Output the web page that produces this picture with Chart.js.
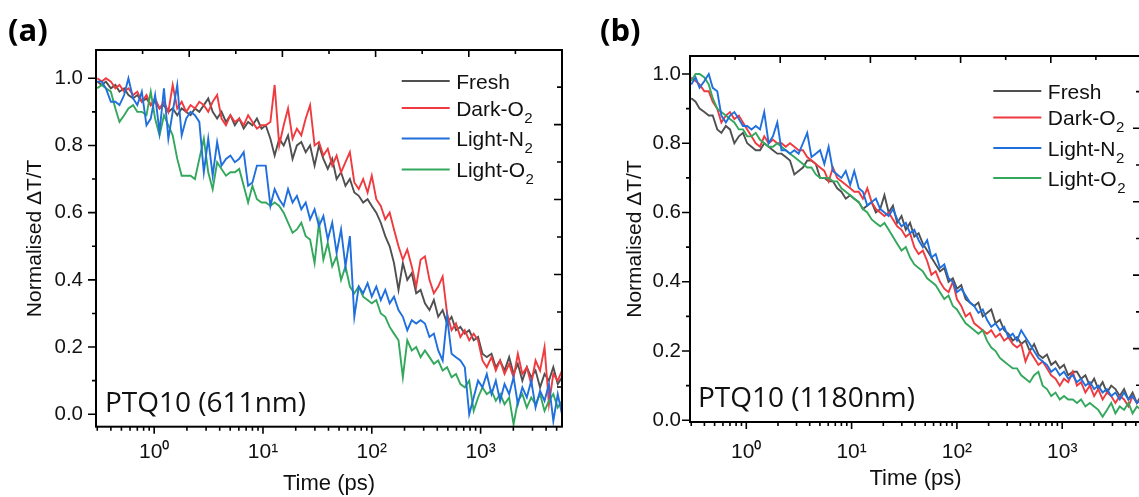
<!DOCTYPE html>
<html>
<head>
<meta charset="utf-8">
<script src="https://cdn.jsdelivr.net/npm/chart.js@4.4.0/dist/chart.umd.min.js"></script>
<style>
  html, body { margin: 0; padding: 0; background: #fff; overflow: hidden; }
  body { width: 1139px; height: 497px; position: relative; }
  .panel { position: absolute; top: 0; width: 580px; height: 497px; }
  .tag { position: absolute; font-family: "Open Sans", sans-serif; font-weight: 700; font-size: 31px; color: #000; }
  .note { position: absolute; font-family: "Open Sans", sans-serif; font-size: 28px; color: #111; white-space: nowrap; }
</style>
</head>
<body>
<div class="panel" style="left:0"><canvas id="ca" width="580" height="497"></canvas></div>
<div class="panel" style="left:580px"><canvas id="cb" width="580" height="497"></canvas></div>
<div class="tag" style="left:8px; top:8px">(a)</div>
<div class="tag" style="left:600px; top:8px">(b)</div>
<div class="note" style="left:105px; top:382px">PTQ10 (611nm)</div>
<div class="note" style="left:698px; top:377px">PTQ10 (1180nm)</div>
<script>
// time axis (ps), shared by all traces
const timePs = [0.30,0.33,0.36,0.40,0.44,0.48,0.53,0.58,0.64,0.70,
  0.77,0.85,0.93,1.02,1.12,1.23,1.35,1.48,1.63,1.79,
  1.97,2.16,2.37,2.60,2.86,3.14,3.45,3.79,4.16,4.57,
  5.02,5.51,6.05,6.65,7.30,8.00,8.80,9.70,10.6,11.7,
  12.8,14.1,15.5,17.0,18.7,20.5,22.5,24.7,27.1,29.8,
  32.7,35.9,39.4,43.3,47.5,52.2,57.3,62.9,69.1,75.9,
  83.3,91.5,100,110,121,133,146,160,176,193,
  212,233,256,281,308,339,372,408,448,492,
  541,594,652,716,786,864,948,1040,1140,1260,
  1380,1510,1660,1830,2010,2200,2420,2660,2920,3200,
  3520,3870,4250,4660,5120,5600];

const seriesNames = ['Fresh', 'Dark-O₂', 'Light-N₂', 'Light-O₂'];
const seriesColors = ['#505050', '#ef3b3f', '#1f6fdc', '#33a85c'];

// panel (a): PTQ10 611nm
const freshA = [0.99,0.98,0.99,0.97,0.98,0.96,0.97,0.95,0.94,0.95,
  0.93,0.94,0.92,0.93,0.91,0.92,0.90,0.91,0.89,0.91,
  0.90,0.89,0.91,0.90,0.92,0.94,0.90,0.88,0.90,0.87,
  0.89,0.86,0.88,0.85,0.87,0.86,0.88,0.85,0.86,0.82,
  0.77,0.82,0.80,0.83,0.76,0.80,0.81,0.78,0.80,0.74,
  0.80,0.76,0.73,0.76,0.70,0.72,0.68,0.70,0.66,0.65,
  0.63,0.64,0.62,0.60,0.57,0.53,0.50,0.45,0.37,0.45,
  0.40,0.42,0.36,0.37,0.33,0.31,0.34,0.29,0.31,0.27,
  0.29,0.25,0.26,0.24,0.25,0.22,0.23,0.18,0.17,0.18,
  0.14,0.16,0.13,0.17,0.12,0.15,0.10,0.14,0.11,0.13,
  0.08,0.12,0.10,0.14,0.09,0.11];
const darkO2A = [1.00,0.99,1.00,0.99,0.97,0.98,0.96,0.97,0.95,0.96,
  0.93,0.95,0.92,0.94,0.91,0.93,0.90,0.98,0.91,0.93,
  0.90,0.92,0.91,0.93,0.92,0.90,0.93,0.95,0.88,0.86,
  0.89,0.87,0.88,0.86,0.89,0.87,0.85,0.86,0.86,0.87,
  0.98,0.80,0.86,0.91,0.82,0.85,0.83,0.88,0.92,0.80,
  0.81,0.77,0.79,0.74,0.77,0.72,0.75,0.78,0.69,0.67,
  0.70,0.66,0.71,0.64,0.62,0.58,0.60,0.55,0.50,0.46,
  0.49,0.44,0.38,0.46,0.47,0.40,0.36,0.38,0.41,0.30,
  0.25,0.27,0.23,0.25,0.22,0.24,0.22,0.16,0.14,0.17,
  0.13,0.16,0.12,0.15,0.11,0.18,0.12,0.14,0.09,0.16,
  0.13,0.20,0.03,0.12,0.10,0.13];
const lightN2A = [0.99,0.99,0.97,0.93,0.93,0.92,0.95,1.00,0.94,0.92,
  0.96,0.86,0.88,0.95,0.84,0.97,0.82,0.90,0.98,0.83,
  0.88,0.90,0.89,0.87,0.72,0.82,0.71,0.81,0.74,0.76,
  0.77,0.75,0.76,0.78,0.68,0.69,0.74,0.74,0.74,0.62,
  0.67,0.64,0.62,0.67,0.63,0.65,0.61,0.63,0.58,0.61,
  0.56,0.59,0.52,0.57,0.48,0.55,0.44,0.53,0.29,0.38,
  0.36,0.39,0.35,0.38,0.34,0.37,0.33,0.35,0.31,0.29,
  0.25,0.28,0.27,0.28,0.27,0.23,0.24,0.19,0.16,0.29,
  0.18,0.17,0.16,0.14,0.00,0.05,0.10,0.08,0.12,0.06,
  0.10,0.04,0.09,0.06,0.11,0.03,0.08,0.05,0.10,0.02,
  0.07,0.04,0.09,-0.02,0.06,0.00];
const lightO2A = [0.97,0.98,0.97,0.96,0.91,0.87,0.89,0.91,0.92,0.90,
  0.90,0.89,0.96,0.88,0.83,0.89,0.86,0.83,0.76,0.71,
  0.71,0.71,0.70,0.76,0.82,0.72,0.67,0.75,0.73,0.71,
  0.72,0.72,0.73,0.68,0.63,0.68,0.64,0.63,0.63,0.62,
  0.63,0.62,0.60,0.57,0.54,0.55,0.57,0.53,0.52,0.45,
  0.57,0.46,0.51,0.44,0.47,0.40,0.44,0.38,0.36,0.38,
  0.35,0.34,0.33,0.34,0.30,0.29,0.26,0.24,0.22,0.11,
  0.22,0.19,0.20,0.17,0.19,0.17,0.15,0.16,0.13,0.14,
  0.11,0.12,0.09,0.08,0.10,0.01,0.05,0.08,0.06,0.07,
  0.04,0.06,0.03,0.05,-0.03,0.04,0.06,0.02,0.05,0.03,
  0.06,0.01,0.04,0.06,0.02,0.04];

// panel (b): PTQ10 1180nm
const freshB = [0.93,0.92,0.90,0.89,0.88,0.88,0.84,0.83,0.85,0.84,
  0.80,0.82,0.83,0.80,0.79,0.78,0.78,0.80,0.79,0.78,
  0.77,0.77,0.76,0.75,0.71,0.72,0.73,0.75,0.75,0.74,
  0.70,0.70,0.69,0.69,0.67,0.66,0.64,0.65,0.64,0.63,
  0.61,0.62,0.63,0.60,0.61,0.65,0.60,0.62,0.57,0.59,
  0.55,0.57,0.53,0.54,0.51,0.49,0.47,0.45,0.43,0.44,
  0.40,0.41,0.38,0.39,0.35,0.34,0.33,0.34,0.30,0.31,
  0.32,0.28,0.29,0.26,0.25,0.23,0.24,0.22,0.23,0.20,
  0.22,0.19,0.18,0.19,0.16,0.17,0.15,0.16,0.13,0.14,
  0.14,0.12,0.13,0.10,0.12,0.09,0.11,0.08,0.10,0.09,
  0.07,0.09,0.06,0.08,0.05,0.07];
const darkO2B = [0.99,0.98,0.97,0.95,0.95,0.92,0.90,0.86,0.88,0.89,
  0.87,0.88,0.86,0.84,0.82,0.80,0.79,0.82,0.80,0.81,
  0.80,0.80,0.79,0.80,0.79,0.78,0.78,0.76,0.75,0.74,
  0.73,0.72,0.69,0.73,0.70,0.69,0.68,0.67,0.66,0.66,
  0.64,0.67,0.63,0.61,0.60,0.59,0.60,0.58,0.56,0.55,
  0.53,0.54,0.50,0.48,0.49,0.46,0.42,0.43,0.40,0.38,
  0.37,0.40,0.35,0.33,0.30,0.31,0.28,0.27,0.26,0.25,
  0.26,0.24,0.25,0.23,0.24,0.22,0.21,0.22,0.17,0.20,
  0.18,0.16,0.17,0.15,0.13,0.12,0.10,0.12,0.11,0.14,
  0.10,0.11,0.08,0.10,0.07,0.09,0.06,0.08,0.07,0.05,
  0.07,0.06,0.04,0.07,0.05,0.06];
const lightN2B = [0.97,0.99,0.96,0.98,1.00,0.96,0.95,0.88,0.86,0.88,
  0.89,0.87,0.85,0.85,0.84,0.85,0.84,0.89,0.80,0.82,
  0.86,0.78,0.78,0.77,0.78,0.77,0.80,0.83,0.76,0.77,
  0.78,0.74,0.79,0.72,0.71,0.70,0.72,0.68,0.72,0.67,
  0.66,0.62,0.63,0.64,0.61,0.60,0.59,0.61,0.58,0.56,
  0.57,0.54,0.55,0.52,0.50,0.52,0.47,0.48,0.44,0.45,
  0.41,0.40,0.37,0.38,0.36,0.34,0.33,0.31,0.32,0.29,
  0.27,0.28,0.26,0.27,0.24,0.25,0.23,0.26,0.24,0.22,
  0.20,0.18,0.17,0.16,0.14,0.15,0.13,0.14,0.12,0.13,
  0.11,0.12,0.10,0.11,0.09,0.10,0.08,0.09,0.07,0.08,
  0.06,0.08,0.06,0.07,0.05,0.06];
const lightO2B = [0.98,1.00,1.00,0.99,0.97,0.93,0.90,0.89,0.88,0.87,
  0.86,0.84,0.84,0.82,0.82,0.83,0.81,0.80,0.79,0.79,
  0.80,0.79,0.78,0.77,0.76,0.75,0.74,0.73,0.73,0.71,
  0.70,0.70,0.70,0.69,0.69,0.67,0.66,0.65,0.64,0.63,
  0.61,0.60,0.58,0.57,0.56,0.57,0.55,0.53,0.51,0.49,
  0.50,0.47,0.45,0.44,0.43,0.41,0.40,0.39,0.37,0.35,
  0.36,0.33,0.32,0.30,0.28,0.27,0.26,0.25,0.26,0.23,
  0.21,0.20,0.18,0.17,0.16,0.15,0.15,0.13,0.12,0.11,
  0.13,0.14,0.10,0.09,0.07,0.08,0.06,0.07,0.06,0.06,
  0.05,0.06,0.04,0.05,0.04,0.03,0.01,0.03,0.05,0.02,
  0.04,0.03,0.05,0.02,0.04,0.03];

const xTickValues = [1, 10, 100, 1000];
const xTickLabels = ['10⁰', '10¹', '10²', '10³'];
const yTickValues = [0.0, 0.2, 0.4, 0.6, 0.8, 1.0];

const FONT = '"Liberation Sans", Arial, sans-serif';

// frame, inward/outward tick marks like the Origin plot
const framePlugin = {
  id: 'frame',
  afterDatasetsDraw(chart) {
    const {ctx, chartArea: a, scales} = chart;
    const x = scales.x, y = scales.y, xt = scales.xTop, yr = scales.yRight;
    ctx.save();
    ctx.strokeStyle = '#000';
    ctx.lineWidth = 1.6;
    ctx.beginPath();
    // left: majors + minors outward
    for (let i = 0; i < yTickValues.length; i++) {
      const p = y.getPixelForValue(yTickValues[i]);
      ctx.moveTo(a.left, p); ctx.lineTo(a.left - 8, p);
      if (i < yTickValues.length - 1) {
        const pm = y.getPixelForValue((yTickValues[i] + yTickValues[i + 1]) / 2);
        ctx.moveTo(a.left, pm); ctx.lineTo(a.left - 4, pm);
      }
    }
    // bottom: decades + log minors outward
    for (let d = -1; d <= 3; d++) {
      for (let k = 1; k <= 9; k++) {
        const v = k * Math.pow(10, d);
        if (v < x.min || v > x.max) continue;
        const p = x.getPixelForValue(v);
        ctx.moveTo(p, a.bottom); ctx.lineTo(p, a.bottom + (k === 1 ? 7 : 4));
      }
    }
    // top + right: inward
    for (let v = 1; v <= 9; v++) {
      const p = xt.getPixelForValue(v);
      ctx.moveTo(p, a.top); ctx.lineTo(p, a.top + (v % 2 === 0 ? 7 : 4));
      const q = yr.getPixelForValue(v);
      ctx.moveTo(a.right, q); ctx.lineTo(a.right - (v % 2 === 0 ? 8 : 5), q);
    }
    ctx.stroke();
    ctx.lineWidth = 2;
    ctx.strokeRect(a.left, a.top, a.right - a.left, a.bottom - a.top);
    ctx.restore();
  }
};

// legend drawn inside plot area, with subscript 2
const keyPlugin = {
  id: 'seriesKey',
  afterDraw(chart, args, o) {
    const {ctx, chartArea: a} = chart;
    ctx.save();
    chart.data.datasets.forEach((ds, i) => {
      const yy = a.top + o.rows[i];
      const x0 = a.left + o.x;
      ctx.strokeStyle = ds.borderColor;
      ctx.lineWidth = 2.2;
      ctx.beginPath(); ctx.moveTo(x0, yy); ctx.lineTo(x0 + 48, yy); ctx.stroke();
      const parts = ds.label.split('₂');
      ctx.fillStyle = '#111';
      ctx.textBaseline = 'alphabetic';
      ctx.font = '21px ' + FONT;
      const tx = x0 + 48 + 6.5;
      ctx.fillText(parts[0], tx, yy + 7.5);
      if (parts.length > 1) {
        const w = ctx.measureText(parts[0]).width;
        ctx.font = '15px ' + FONT;
        ctx.fillText('2', tx + w + 0.5, yy + 14.5);
      }
    });
    ctx.restore();
  }
};

function makePanel(id, values, P) {
  const datasets = values.map((vals, i) => ({
    label: seriesNames[i],
    data: timePs.map((t, j) => ({x: t, y: vals[j]})),
    borderColor: seriesColors[i],
    borderWidth: 1.9,
    pointRadius: 0,
    tension: 0,
    order: [4, 3, 1, 2][i]
  }));
  return new Chart(document.getElementById(id).getContext('2d'), {
    type: 'line',
    data: {datasets: datasets},
    options: {
      responsive: false,
      animation: false,
      layout: {padding: {left: 0, top: P.top, right: P.right, bottom: 0}},
      plugins: {
        legend: {display: false},
        tooltip: {enabled: false},
        seriesKey: {x: P.keyX, rows: P.keyRows}
      },
      scales: {
        x: {
          type: 'logarithmic', min: 0.292, max: 5600,
          grid: {display: false, drawTicks: false},
          border: {display: false},
          afterBuildTicks: s => { s.ticks = xTickValues.map(v => ({value: v})); },
          afterFit: s => { s.height = P.xHeight; },
          ticks: {
            autoSkip: false, maxRotation: 0, padding: P.xPad, color: '#111',
            font: {family: FONT, size: 21},
            callback: v => xTickLabels[xTickValues.indexOf(v)] || ''
          },
          title: {display: true, text: 'Time (ps)', color: '#111',
                  font: {family: FONT, size: 22}, padding: {top: 0, bottom: P.xTitlePad}}
        },
        y: {
          min: P.yMin, max: P.yMax,
          grid: {display: false, drawTicks: false},
          border: {display: false},
          afterBuildTicks: s => { s.ticks = yTickValues.map(v => ({value: v})); },
          afterFit: s => { s.width = P.yWidth; },
          ticks: {
            padding: P.yPad, color: '#111',
            font: {family: FONT, size: 20.5},
            callback: v => v.toFixed(1)
          },
          title: {display: true, text: 'Normalised ΔT/T', color: '#111',
                  font: {family: FONT, size: 21}, padding: {top: P.yTitlePad, bottom: 0}}
        },
        xTop: {type: 'linear', position: 'top', display: false, min: 0, max: 10},
        yRight: {type: 'linear', position: 'right', display: false, min: P.rMin, max: P.rMax}
      }
    },
    plugins: [framePlugin, keyPlugin]
  });
}

makePanel('ca', [freshA, darkO2A, lightN2A, lightO2A], {
  top: 50, right: 18, yWidth: 96, xHeight: 70.3,
  yMin: -0.037, yMax: 1.084, rMin: -0.06, rMax: 9.99,
  xPad: 13, yPad: 13, xTitlePad: 0, yTitlePad: 23,
  keyX: 305.7, keyRows: [31, 58, 88.5, 119.5]
});

makePanel('cb', [freshB, darkO2B, lightN2B, lightO2B], {
  top: 56, right: 19, yWidth: 110, xHeight: 75,
  yMin: -0.005, yMax: 1.052, rMin: 0.0, rMax: 9.97,
  xPad: 17.5, yPad: 9, xTitlePad: 5, yTitlePad: 43,
  keyX: 303.3, keyRows: [35, 61.5, 92, 122]
});
</script>
</body>
</html>
